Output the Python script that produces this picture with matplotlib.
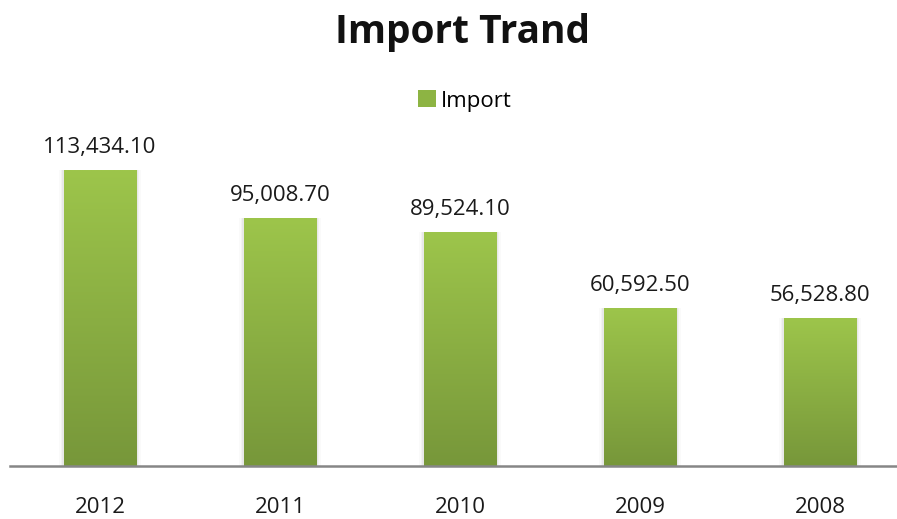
import matplotlib
matplotlib.use("Agg")
import matplotlib.pyplot as plt
import numpy as np
from matplotlib.colors import LinearSegmentedColormap
from matplotlib.patches import Patch

categories = ["2012", "2011", "2010", "2009", "2008"]
values = [113434.10, 95008.70, 89524.10, 60592.50, 56528.80]
labels = ["113,434.10", "95,008.70", "89,524.10", "60,592.50", "56,528.80"]
title = "Import Trand"
series_name = "Import"

W, H = 897, 519
fig = plt.figure(figsize=(W/100, H/100), dpi=100)
plt.rcParams['font.family'] = ['Open Sans', 'DejaVu Sans']

ax = fig.add_axes([10/W, (H-466)/H, 887/W, 326/H])
x = np.arange(len(categories))
bw = 0.405
bars = ax.bar(x, values, width=bw, color='#8db443', zorder=2)
ymax = 326/296*values[0]

cmap = LinearSegmentedColormap.from_list('g', ['#77973a', '#9dc54b'])
grad = np.linspace(0, 1, 256).reshape(-1, 1)
for i, b in enumerate(bars):
    x0, y0 = b.get_x(), b.get_y()
    w, h = b.get_width(), b.get_height()
    for k, a in zip([0.025, 0.015, 0.008], [0.02, 0.03, 0.04]):
        ax.add_patch(plt.Rectangle((x0 - k, y0), w + 2*k, h + k*3000, color='black',
                                   alpha=a, lw=0, zorder=1))
    im = ax.imshow(grad, extent=[x0, x0 + w, y0, y0 + h], origin='lower',
                   cmap=cmap, aspect='auto', zorder=3)
    im.set_clip_path(b)
    ax.text(x0 + w/2, y0 + h + 0.07*ymax, labels[i],
            ha='center', va='center', fontsize=16, color='#1a1a1a', zorder=4)
ax.set_ylim(0, ymax)
ax.set_xlim(-0.5, -0.5 + 887/180)

for s in ['top', 'right', 'left']:
    ax.spines[s].set_visible(False)
ax.spines['bottom'].set_color('#868686')
ax.spines['bottom'].set_linewidth(1.8)
ax.spines['bottom'].set_zorder(5)
ax.set_yticks([])
ax.set_xticks(x)
ax.set_xticklabels(categories, fontsize=16, color='#1a1a1a')
ax.tick_params(axis='x', length=0, pad=22.5)

fig.text(462/W, 1 - 33/H, title, ha='center', va='center', fontsize=28,
         fontweight='bold', color='#111111')
fig.legend(handles=[Patch(facecolor='#8db443', edgecolor='none')], labels=[series_name],
           loc='center', bbox_to_anchor=(465/W, 1 - 101/H), frameon=False,
           fontsize=16, handlelength=0.8, handleheight=0.8, handletextpad=0.2)

fig.savefig("out.png", dpi=100, facecolor='white')
